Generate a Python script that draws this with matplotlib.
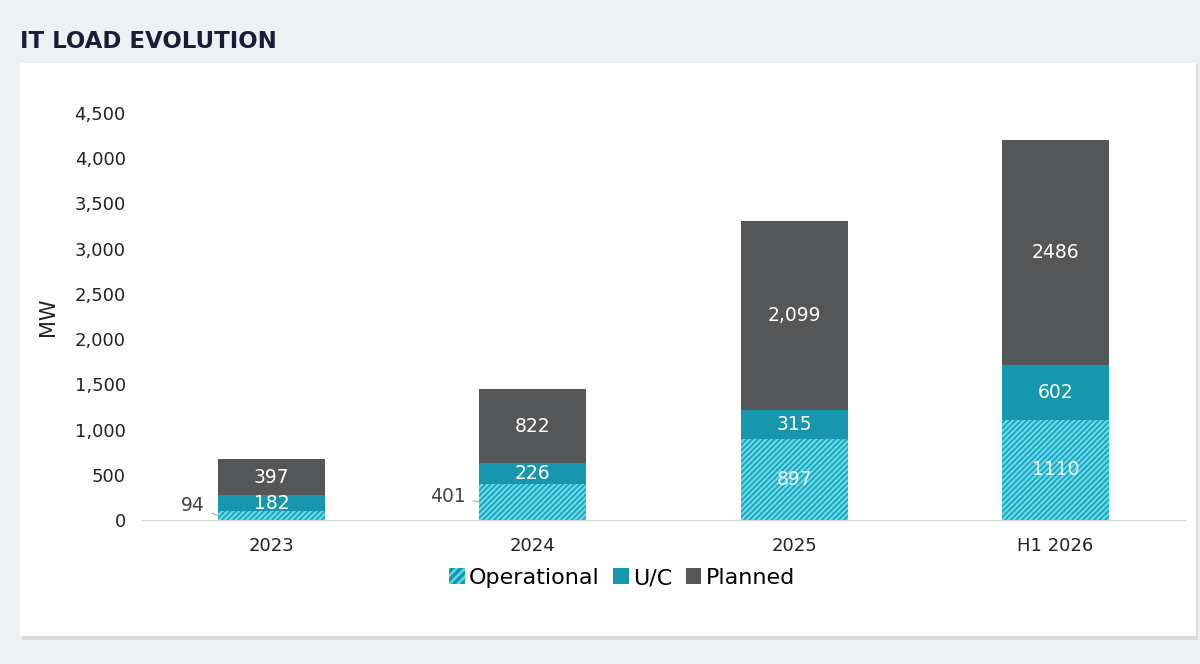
import matplotlib.pyplot as plt
from matplotlib.patches import Rectangle, Patch
import numpy as np

plt.rcParams['font.family'] = ['DejaVu Sans']
plt.rcParams['hatch.linewidth'] = 1.8

years = ['2023', '2024', '2025', 'H1 2026']
operational = [94, 401, 897, 1110]
under_constr = [182, 226, 315, 602]
planned = [397, 822, 2099, 2486]
planned_labels = ['397', '822', '2,099', '2486']
op_labels = ['94', '401', '897', '1110']
# outside label heights for the small operational values
outside_y = {0: 160, 1: 265}

teal = '#1697ad'
stripe = '#5fd9ea'
grey = '#545657'

fig = plt.figure(figsize=(12, 6.64), dpi=100)
fig.patch.set_facecolor('#eef0f2')

# white card behind chart
fig.add_artist(Rectangle((22/1200, 1-640/664), 1176/1200, 576/664, transform=fig.transFigure,
                         facecolor='#d9dbde', edgecolor='none', zorder=-3))
fig.add_artist(Rectangle((20/1200, 1-636/664), 1176/1200, 573/664, transform=fig.transFigure,
                         facecolor='white', edgecolor='none', zorder=-2))

fig.text(20/1200, 1-42/664, 'IT LOAD EVOLUTION', fontsize=16.5, fontweight='bold',
         color='#1c1b3a', va='center', ha='left')

ax = fig.add_axes([141/1200, 1-520/664, 1045/1200, 407/664])
ax.set_facecolor('none')
ax.set_zorder(5)
x = np.arange(len(years))
w = 0.41

op = np.array(operational)
uc = np.array(under_constr)
pl = np.array(planned)

ax.bar(x, op, w, color=teal, edgecolor=stripe, hatch='//////', linewidth=0)
ax.bar(x, uc, w, bottom=op, color=teal, linewidth=0)
ax.bar(x, pl, w, bottom=op + uc, color=grey, linewidth=0)

for i in range(len(years)):
    ax.text(x[i], op[i] + uc[i] + pl[i] / 2, planned_labels[i], color='white', fontsize=13.5,
            ha='center', va='center')
    ax.text(x[i], op[i] + uc[i] / 2, str(uc[i]), color='white', fontsize=13.5,
            ha='center', va='center')
    if i not in outside_y:
        ax.text(x[i], op[i] / 2, op_labels[i], color='#e8fbff', fontsize=13.5,
                ha='center', va='center')
    else:
        ax.annotate(op_labels[i], xy=(x[i] - w / 2, op[i] / 2), xytext=(x[i] - 0.255, outside_y[i]),
                    fontsize=13.5, color='#444444', ha='right', va='center',
                    arrowprops=dict(arrowstyle='-', color='#aaaaaa', lw=0.8, shrinkA=3, shrinkB=0))

ax.set_xlim(-0.5, 3.5)
ax.set_ylim(0, 4500)
ax.set_yticks(np.arange(0, 4501, 500))
ax.set_yticklabels([f'{v:,}' for v in range(0, 4501, 500)])
ax.set_xticks(x)
ax.set_xticklabels(years)
ax.tick_params(axis='both', length=0, labelsize=13, colors='#222222')
ax.tick_params(axis='y', pad=11)
ax.tick_params(axis='x', pad=12)
for s in ['top', 'right', 'left']:
    ax.spines[s].set_visible(False)
ax.spines['bottom'].set_color('#d5d5d5')
ax.set_ylabel('MW', fontsize=15, color='#222222', labelpad=12)

handles = [Patch(facecolor=teal, edgecolor=stripe, hatch='////', linewidth=0),
           Patch(facecolor=teal, linewidth=0),
           Patch(facecolor=grey, linewidth=0)]
fig.legend(handles, ['Operational', 'U/C', 'Planned'], loc='center', bbox_to_anchor=(622/1200, 1-578/664),
           ncol=3, frameon=False, fontsize=16, handlelength=0.7, handleheight=0.7,
           handletextpad=0.2, columnspacing=0.6)

fig.savefig('out.png', dpi=100, facecolor=fig.get_facecolor())
